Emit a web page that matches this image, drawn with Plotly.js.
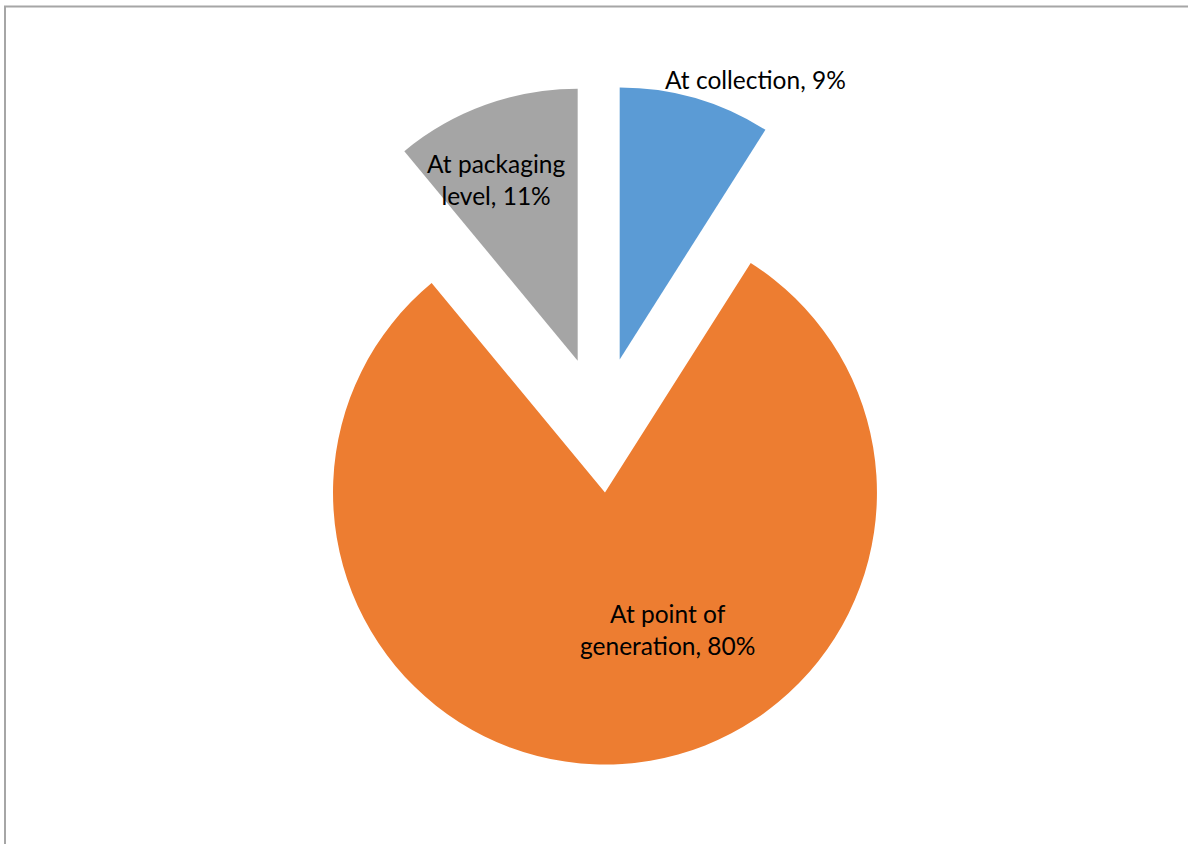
<!DOCTYPE html>
<html>
<head>
<meta charset="utf-8">
<script src="https://cdn.plot.ly/plotly-3.0.1.min.js"></script>
<style>html,body{margin:0;padding:0;background:#fff;}#chart{width:1188px;height:844px;}</style>
</head>
<body>
<div id="chart"></div>
<script>
const labels = ["At collection", "At point of generation", "At packaging level"];
const values = [9, 80, 11];
const colors = ["#5B9BD5", "#ED7D31", "#A5A5A5"];
const labelLines = [["At collection, 9%"], ["At point of", "generation, 80%"], ["At packaging", "level, 11%"]];

const W = 1188, H = 844;
const px = x => x / W;
const py = y => 1 - y / H;

const labelPos = [[755, 80], [667, 629], [496, 179]];

const annotations = labels.map((l, i) => ({
  xref: "paper", yref: "paper",
  x: px(labelPos[i][0]), y: py(labelPos[i][1]),
  xanchor: "center", yanchor: "middle",
  showarrow: false,
  text: labelLines[i].join("<br>"),
  font: {family: "Lato, 'Open Sans', sans-serif", size: 24.5, color: "#000000"}
}));

const trace = {
  type: "pie",
  labels: labels,
  values: values,
  sort: false,
  direction: "clockwise",
  rotation: 0,
  pull: [0.25, 0.25, 0.25],
  marker: {colors: colors, line: {width: 0}},
  textinfo: "none",
  hoverinfo: "skip",
  showlegend: false,
  domain: {x: [0.0113, 1], y: [0.094, 0.8996]}
};

const layout = {
  width: W, height: H,
  margin: {l: 0, r: 0, t: 0, b: 0},
  paper_bgcolor: "#ffffff",
  showlegend: false,
  annotations: annotations,
  shapes: [{
    type: "path", xref: "paper", yref: "paper",
    path: `M ${px(5)} ${py(H+5)} L ${px(5)} ${py(6.5)} L ${px(W+5)} ${py(6.5)}`,
    line: {color: "#A6A6A6", width: 2}
  }]
};

Plotly.newPlot("chart", [trace], layout, {displayModeBar: false, staticPlot: true});
</script>
</body>
</html>
